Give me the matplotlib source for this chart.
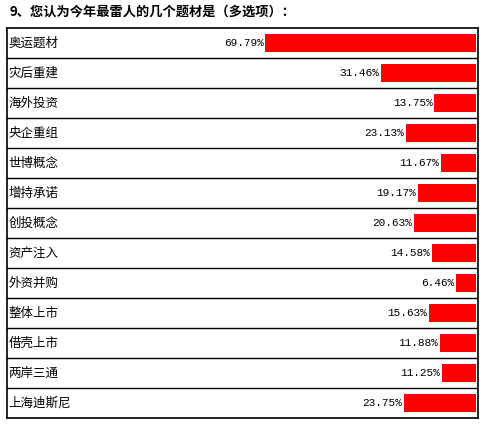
import matplotlib.pyplot as plt

plt.rcParams['font.family'] = ['Noto Sans CJK SC', 'DejaVu Sans']

# data
title = "9、您认为今年最雷人的几个题材是（多选项）："
categories = ["奥运题材", "灾后重建", "海外投资", "央企重组", "世博概念", "增持承诺",
              "创投概念", "资产注入", "外资并购", "整体上市", "借壳上市", "两岸三通", "上海迪斯尼"]
values = [69.79, 31.46, 13.75, 23.13, 11.67, 19.17, 20.63, 14.58, 6.46, 15.63, 11.88, 11.25, 23.75]

W, H = 499, 426
fig = plt.figure(figsize=(W / 100, H / 100), dpi=100)
fig.patch.set_facecolor('white')

# table box in pixels
x0, x1, y0, y1 = 7, 478, 28, 418
ax = fig.add_axes([x0 / W, 1 - y1 / H, (x1 - x0) / W, (y1 - y0) / H])

px_per_pct = 3.02
xmax = (x1 - x0) / px_per_pct
bar_end = xmax - 2 / px_per_pct
n = len(categories)

ypos = [i + 0.5 for i in range(n)]
lefts = [bar_end - v for v in values]
ax.barh(ypos, values, left=lefts, height=0.63, color='#ff0000', edgecolor='none')

for i in range(1, n):
    ax.axhline(i, color='black', lw=1)

for y, cat, v, l in zip(ypos, categories, values, lefts):
    ax.text(0.5, y, cat, ha='left', va='center', fontsize=9)
    ax.text(l - 0.6, y, f"{v:.2f}%", ha='right', va='center', fontsize=8,
            family='Liberation Mono')

ax.set_xlim(0, xmax)
ax.set_ylim(n, 0)
ax.set_xticks([])
ax.set_yticks([])
for s in ax.spines.values():
    s.set_linewidth(1.2)
    s.set_color('black')

fig.text(10 / W, 1 - 12 / H, title, ha='left', va='center', fontsize=9.5, fontweight='bold')

fig.savefig('out.png', dpi=100)
